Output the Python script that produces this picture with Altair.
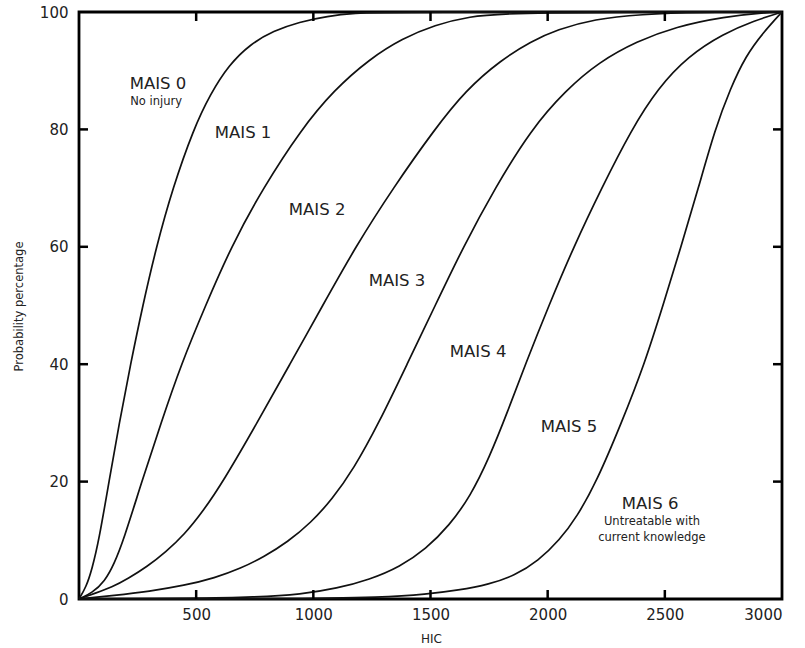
import altair as alt
import pandas as pd

# ---- data ----
mais0_hic = [0, 30, 55, 85, 128, 172, 220, 272, 330, 400, 488, 560, 640, 730, 830, 940, 1060, 1180, 1300, 3000]
mais0_p = [0, 2, 5, 10, 20, 30, 40, 50, 60, 70, 80, 86, 91, 94.5, 96.8, 98.3, 99.3, 99.8, 100, 100]

mais1_hic = [0, 55, 110, 150, 190, 268, 350, 436, 540, 649, 785, 948, 1088, 1240, 1380, 1520, 1660, 1850, 3000]
mais1_p = [0, 1, 3, 6, 10, 20, 30, 40, 50, 60, 70, 80, 86.7, 92, 95.5, 97.8, 99.2, 100, 100]

mais2_hic = [0, 70, 140, 210, 290, 370, 450, 530, 615, 760, 900, 1040, 1180, 1340, 1517, 1651, 1800, 1930, 2040, 2200, 2394, 2650, 3000]
mais2_p = [0, 1, 2, 3.5, 5.5, 8, 11, 15, 20, 30, 40, 50, 60, 70, 80, 86.7, 91.8, 95, 97, 98.8, 99.6, 100, 100]

mais3_hic = [0, 150, 300, 450, 580, 690, 790, 890, 990, 1080, 1170, 1280, 1400, 1520, 1640, 1775, 1929, 2078, 2220, 2380, 2547, 2750, 2950, 3000]
mais3_p = [0, 0.6, 1.3, 2.3, 3.6, 5.2, 7.2, 9.7, 13, 17, 22, 30, 40, 50, 60, 70, 80, 86.7, 91.5, 95, 97.5, 99.2, 100, 100]

mais4_hic = [0, 500, 750, 950, 1100, 1240, 1370, 1480, 1580, 1670, 1750, 1830, 1905, 2005, 2111, 2230, 2358, 2470, 2600, 2750, 2880, 3000]
mais4_p = [0, 0.1, 0.3, 0.8, 1.8, 3.3, 5.5, 8.5, 12.5, 17.5, 24, 32, 40, 50, 60, 70, 80, 87, 92.5, 96.3, 98.5, 100]

mais5_hic = [0, 900, 1300, 1480, 1620, 1750, 1860, 1960, 2050, 2125, 2209, 2315, 2413, 2492, 2569, 2643, 2714, 2780, 2845, 2920, 3000]
mais5_p = [0, 0, 0.3, 0.8, 1.5, 2.5, 4, 6.5, 10, 14, 20, 30, 40, 50, 60, 70, 80, 87, 92.5, 96.5, 100]

label_text = ["MAIS 0", "No injury", "MAIS 1", "MAIS 2", "MAIS 3", "MAIS 4", "MAIS 5",
              "MAIS 6", "Untreatable with", "current knowledge"]
label_hic = [337, 329, 700, 1016, 1357, 1703, 2091, 2437, 2445, 2445]
label_p = [87.7, 84.7, 79.4, 66.3, 54.2, 42.1, 29.3, 16.2, 13.1, 10.4]
label_size = [16.5, 11.5, 16.5, 16.5, 16.5, 16.5, 16.5, 16.5, 11.5, 11.5]

x_ticks = [500, 1000, 1500, 2000, 2500]
y_ticks = [20, 40, 60, 80]
x_labels = [500, 1000, 1500, 2000, 2500, 3000]
y_labels = [0, 20, 40, 60, 80, 100]

W, H = 703, 587
FONT = "DejaVu Sans"
TXT = "#222222"

rows = []
for name, hs, ps in [("MAIS 0", mais0_hic, mais0_p), ("MAIS 1", mais1_hic, mais1_p),
                     ("MAIS 2", mais2_hic, mais2_p), ("MAIS 3", mais3_hic, mais3_p),
                     ("MAIS 4", mais4_hic, mais4_p), ("MAIS 5", mais5_hic, mais5_p)]:
    for i, (h, p) in enumerate(zip(hs, ps)):
        rows.append({"curve": name, "hic": h, "p": p, "order": i})
curves = pd.DataFrame(rows)
labels = pd.DataFrame({"text": label_text, "hic": label_hic, "p": label_p, "size": label_size})
xt = pd.DataFrame({"v": x_ticks})
yt = pd.DataFrame({"v": y_ticks})

xscale = alt.Scale(domain=[0, 3000], nice=False, zero=False)
yscale = alt.Scale(domain=[0, 100], nice=False, zero=False)

lines = alt.Chart(curves).mark_line(interpolate="basis", color="#111111", strokeWidth=1.7).encode(
    x=alt.X("hic:Q", scale=xscale,
            axis=alt.Axis(values=x_labels, format="d", ticks=False, domain=False, grid=False,
                          labelFontSize=15, labelFont=FONT, labelColor=TXT, labelPadding=8,
                          title="HIC", titleFont=FONT, titleFontSize=12, titleFontWeight="normal",
                          titleColor=TXT, titleX=352, titleY=39, titleBaseline="middle")),
    y=alt.Y("p:Q", scale=yscale,
            axis=alt.Axis(values=y_labels, format="d", ticks=False, domain=False, grid=False,
                          labelFontSize=15, labelFont=FONT, labelColor=TXT, labelPadding=11,
                          title="Probability percentage", titleFont=FONT, titleFontSize=11.5,
                          titleFontWeight="normal", titleColor=TXT, titleAngle=270,
                          titleX=-60, titleY=294, titleBaseline="middle", titleAlign="center")),
    detail="curve:N",
    order="order:Q",
)

texts = alt.Chart(labels).mark_text(font=FONT, color=TXT, align="center", baseline="middle").encode(
    x=alt.X("hic:Q", scale=xscale),
    y=alt.Y("p:Q", scale=yscale),
    text="text:N",
    size=alt.Size("size:Q", scale=None),
)

tick_style = dict(color="black", strokeWidth=2.5)
bottom_ticks = alt.Chart(xt).mark_rule(**tick_style).encode(
    x=alt.X("v:Q", scale=xscale), y=alt.value(H), y2=alt.value(H - 9))
top_ticks = alt.Chart(xt).mark_rule(**tick_style).encode(
    x=alt.X("v:Q", scale=xscale), y=alt.value(0), y2=alt.value(9))
left_ticks = alt.Chart(yt).mark_rule(**tick_style).encode(
    y=alt.Y("v:Q", scale=yscale), x=alt.value(0), x2=alt.value(9))
right_ticks = alt.Chart(yt).mark_rule(**tick_style).encode(
    y=alt.Y("v:Q", scale=yscale), x=alt.value(W), x2=alt.value(W - 9))

chart = alt.layer(lines, texts, bottom_ticks, top_ticks, left_ticks, right_ticks).properties(
    width=W, height=H,
    autosize=alt.AutoSizeParams(type="none"),
    padding={"left": 79, "top": 12, "right": 23, "bottom": 49},
    background="white",
).configure_view(stroke="black", strokeWidth=2.8)

chart.save("out.html", embed_options={"renderer": "svg", "actions": False})
